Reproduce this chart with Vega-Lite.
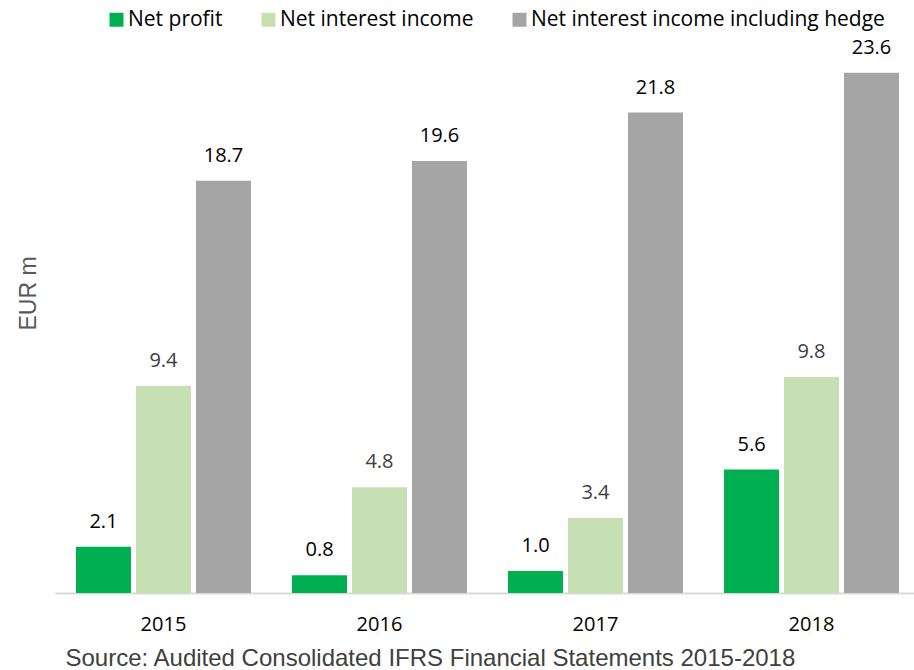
{
  "$schema": "https://vega.github.io/schema/vega-lite/v6.json",
  "width": 859,
  "height": 551,
  "autosize": {"type": "none"},
  "padding": {"left": 55, "top": 42, "right": 0, "bottom": 77},
  "background": "white",
  "config": {"view": {"stroke": null}},
  "data": {
    "values": [
      {"year": "2015", "series": "Net profit", "value": 2.1},
      {"year": "2015", "series": "Net interest income", "value": 9.4},
      {"year": "2015", "series": "Net interest income including hedge", "value": 18.7},
      {"year": "2016", "series": "Net profit", "value": 0.8},
      {"year": "2016", "series": "Net interest income", "value": 4.8},
      {"year": "2016", "series": "Net interest income including hedge", "value": 19.6},
      {"year": "2017", "series": "Net profit", "value": 1.0},
      {"year": "2017", "series": "Net interest income", "value": 3.4},
      {"year": "2017", "series": "Net interest income including hedge", "value": 21.8},
      {"year": "2018", "series": "Net profit", "value": 5.6},
      {"year": "2018", "series": "Net interest income", "value": 9.8},
      {"year": "2018", "series": "Net interest income including hedge", "value": 23.6}
    ]
  },
  "encoding": {
    "x": {
      "field": "year",
      "type": "nominal",
      "scale": {"paddingInner": 0.19, "paddingOuter": 0.0834, "align": 0.583},
      "axis": {
        "title": "Source: Audited Consolidated IFRS Financial Statements 2015-2018",
        "titleFont": "Liberation Sans",
        "titleFontSize": 24,
        "titleFontWeight": "normal",
        "titleColor": "#404040",
        "titleAnchor": "start",
        "titleAlign": "left",
        "titleBaseline": "alphabetic",
        "titleX": 10,
        "titleY": 72,
        "labelAngle": 0,
        "labelFont": "Open Sans",
        "labelFontSize": 20,
        "labelColor": "#000000",
        "labelPadding": 21,
        "ticks": false,
        "tickSize": 0,
        "domainColor": "#D9D9D9",
        "domainWidth": 2,
        "grid": false
      }
    },
    "xOffset": {
      "field": "series",
      "type": "nominal",
      "sort": ["Net profit", "Net interest income", "Net interest income including hedge"],
      "scale": {"paddingInner": 0.0833, "paddingOuter": 0}
    },
    "y": {
      "field": "value",
      "type": "quantitative",
      "scale": {"domain": [0, 25], "nice": false},
      "axis": {
        "title": "EUR m",
        "titleFont": "Liberation Sans",
        "titleFontSize": 23,
        "titleFontWeight": "normal",
        "titleColor": "#595959",
        "titleBaseline": "alphabetic",
        "titleAlign": "center",
        "titleAngle": -90,
        "titleX": -20,
        "titleY": 251,
        "labels": false,
        "ticks": false,
        "domain": false,
        "grid": false
      }
    }
  },
  "layer": [
    {
      "mark": {"type": "bar"},
      "encoding": {
        "color": {
          "field": "series",
          "type": "nominal",
          "scale": {
            "domain": ["Net profit", "Net interest income", "Net interest income including hedge"],
            "range": ["#00B050", "#C6E0B4", "#A5A5A5"]
          },
          "legend": {
            "title": null,
            "orient": "none",
            "direction": "horizontal",
            "legendX": 51,
            "legendY": -33,
            "labelFont": "Open Sans",
            "labelFontSize": 21,
            "labelColor": "#000000",
            "labelLimit": 600,
            "symbolType": "square",
            "symbolSize": 196,
            "symbolStrokeWidth": 0,
            "labelOffset": 1,
            "columnPadding": 35
          }
        }
      }
    },
    {
      "mark": {
        "type": "text",
        "font": "Open Sans",
        "fontSize": 20,
        "baseline": "alphabetic",
        "dy": -19
      },
      "encoding": {
        "text": {"field": "value", "type": "quantitative", "format": ".1f"},
        "color": {
          "condition": {"test": "datum.series === 'Net interest income'", "value": "#404040"},
          "value": "#000000"
        }
      }
    }
  ]
}
